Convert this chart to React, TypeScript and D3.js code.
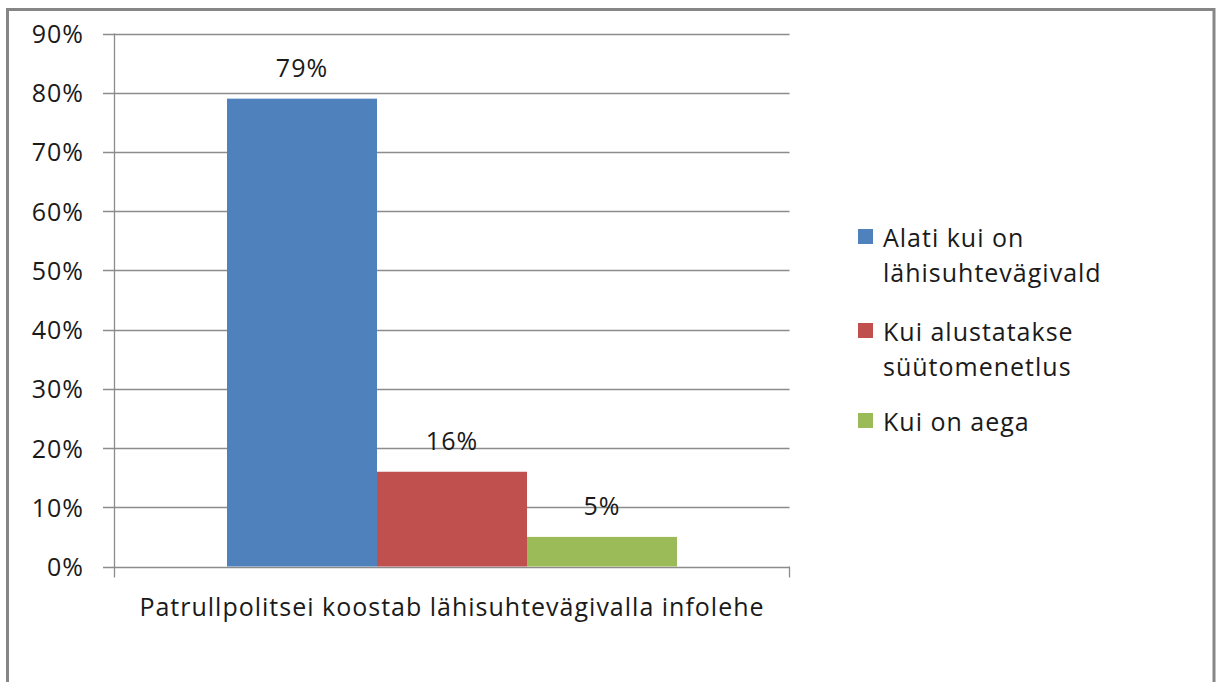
import React from "react";
import * as d3 from "d3";

const categories = ["Patrullpolitsei koostab lähisuhtevägivalla infolehe"];
const seriesNames = [
  ["Alati kui on", "lähisuhtevägivald"],
  ["Kui alustatakse", "süütomenetlus"],
  ["Kui on aega"],
];
const seriesValues = [0.79, 0.16, 0.05];
const seriesColors = ["#4F81BD", "#C0504D", "#9BBB59"];
const yTicks = [0, 0.1, 0.2, 0.3, 0.4, 0.5, 0.6, 0.7, 0.8, 0.9];

const W = 1216;
const H = 682;
const FONT = "'Open Sans', sans-serif";
const FS = 25;
const LS = 1;
const TXT = "#1a1a1a";

export default function App() {
  const plotLeft = 114.5;
  const plotRight = 789.5;
  const plotTop = 33.5;
  const plotBottom = 566.5;

  const y = d3.scaleLinear().domain([0, 0.9]).range([plotBottom, plotTop]);
  const x0 = d3.scaleBand().domain(categories).range([plotLeft, plotRight]).paddingInner(0).paddingOuter(0);
  const cw = x0.bandwidth();
  const groupW = cw / (1 + 1.5 / seriesValues.length);
  const barW = groupW / seriesValues.length;
  const gStart = (cw - groupW) / 2;
  const x1 = d3
    .scaleBand<number>()
    .domain(seriesValues.map((_, i) => i))
    .range([gStart, gStart + groupW])
    .padding(0);

  const fmt = d3.format(".0%");

  const legendX = 858;
  const legendTextX = 883;
  const legendTops = [229, 323, 413];
  const lineH = 35;

  return (
    <svg
      width={W}
      height={H}
      style={{ position: "absolute", left: 0, top: 0, background: "#fff" }}
      fontFamily={FONT}
      fontSize={FS}
      letterSpacing={LS}
    >
      <rect x={7.5} y={9.5} width={1206.5} height={700} fill="#fff" stroke="#868686" strokeWidth={3} />
      {yTicks.map((t) => (
        <g key={t}>
          <line x1={103} x2={plotRight} y1={Math.round(y(t)) + 0.5} y2={Math.round(y(t)) + 0.5} stroke="#8c8c8c" strokeWidth={1.3} />
          <text x={84} y={y(t) + 9.5} textAnchor="end" fill={TXT}>
            {fmt(t)}
          </text>
        </g>
      ))}
      <line x1={plotLeft} x2={plotLeft} y1={plotTop} y2={plotBottom + 11} stroke="#8c8c8c" strokeWidth={1.3} />
      <line x1={plotRight} x2={plotRight} y1={plotBottom} y2={plotBottom + 11} stroke="#8c8c8c" strokeWidth={1.3} />
      {categories.map((c) => (
        <g key={c} transform={`translate(${x0(c)},0)`}>
          {seriesValues.map((v, i) => (
            <g key={i}>
              <rect
                x={x1(i)!}
                y={y(v)}
                width={barW}
                height={plotBottom - y(v)}
                fill={seriesColors[i]}
              />
              <text
                x={x1(i)! + barW / 2}
                y={y(v) - 21.5}
                textAnchor="middle"
                fill={TXT}
              >
                {fmt(v)}
              </text>
            </g>
          ))}
          <text x={cw / 2} y={616} textAnchor="middle" fill={TXT}>
            {c}
          </text>
        </g>
      ))}
      {seriesNames.map((lines, i) => (
        <g key={i}>
          <rect x={legendX} y={legendTops[i]} width={15} height={15} fill={seriesColors[i]} />
          {lines.map((l, j) => (
            <text key={j} x={legendTextX} y={legendTops[i] + 18 + j * lineH} fill={TXT}>
              {l}
            </text>
          ))}
        </g>
      ))}
    </svg>
  );
}
